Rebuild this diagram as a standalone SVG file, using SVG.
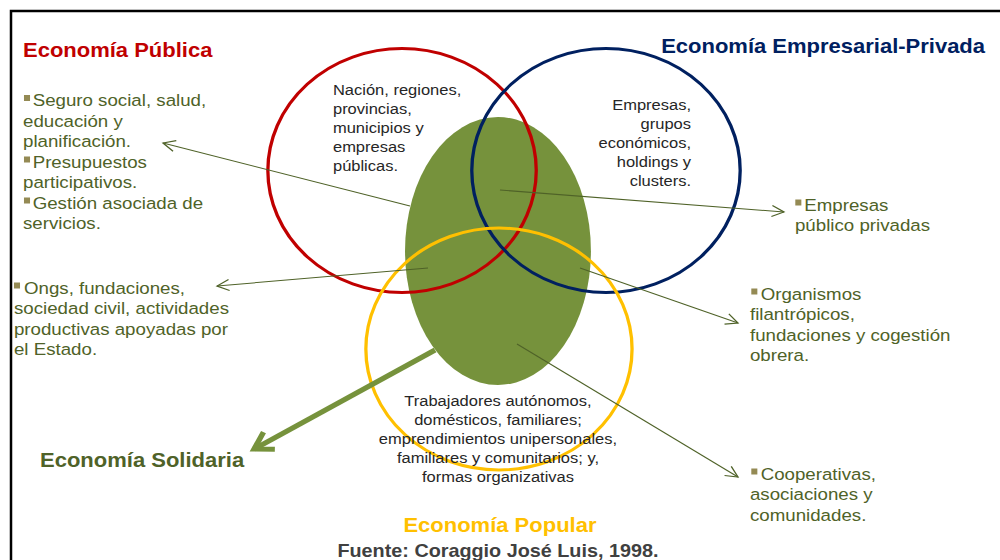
<svg xmlns="http://www.w3.org/2000/svg" width="1000" height="560" viewBox="0 0 1000 560">
<style>
.t{font-family:"Liberation Sans",Arial,sans-serif}
.b{font-weight:bold;font-size:20px}
.l{font-size:17px;fill:#4F6228}
.c{font-size:15px;fill:#262626}
.bu{fill:#948A54}
.thin{fill:none;stroke:#4F6228;stroke-width:1}
</style>
<defs>
<marker id="ah" markerUnits="userSpaceOnUse" markerWidth="14" markerHeight="14" viewBox="0 0 14 14" refX="12" refY="7" orient="auto">
<path d="M1,1.5 L12,7 L1,12.5" fill="none" stroke="#4F6228" stroke-width="1.2"/>
</marker>
<marker id="ahg" markerUnits="userSpaceOnUse" markerWidth="26" markerHeight="26" viewBox="0 0 26 26" refX="21" refY="13" orient="auto">
<path d="M5,3 L21,13 L5,23" fill="none" stroke="#76923C" stroke-width="5"/>
</marker>
</defs>
<rect x="0" y="0" width="1000" height="560" fill="#ffffff"/>
<path d="M11,600 L11,11 L1010,11" fill="none" stroke="#000" stroke-width="2.5"/>
<g transform="scale(1.1 1)">
<g id="node-solidaria-core">
<ellipse cx="452.7" cy="251" rx="84.5" ry="134" fill="#76923C"/>
</g>
<g id="node-publica-circle">
<circle cx="365.5" cy="170.5" r="122" fill="none" stroke="#C00000" stroke-width="3"/>
</g>
<g id="node-privada-circle">
<circle cx="550.9" cy="170.5" r="122" fill="none" stroke="#002060" stroke-width="3"/>
</g>
<g id="node-popular-circle">
<circle cx="453.6" cy="349" r="121" fill="none" stroke="#FFC000" stroke-width="3"/>
</g>
<g id="connectors">
<line class="thin" x1="372.7" y1="206" x2="148.2" y2="143" marker-end="url(#ah)"/>
<line class="thin" x1="454.5" y1="190" x2="712.7" y2="212" marker-end="url(#ah)"/>
<line class="thin" x1="389.1" y1="268" x2="197.3" y2="286" marker-end="url(#ah)"/>
<line class="thin" x1="527.3" y1="268" x2="670.9" y2="323" marker-end="url(#ah)"/>
<line class="thin" x1="470" y1="344" x2="670.9" y2="477" marker-end="url(#ah)"/>
<line x1="395.5" y1="350" x2="231" y2="449" stroke="#76923C" stroke-width="5" marker-end="url(#ahg)"/>
</g>
<g id="node-publica-title">
<text class="t b" x="20.9" y="57" fill="#C00000">Economía Pública</text>
</g>
<g id="node-privada-title">
<text class="t b" x="895.5" y="53" fill="#002060" text-anchor="end">Economía Empresarial-Privada</text>
</g>
<g id="node-publica-list">
<rect class="bu" x="21.8" y="95" width="5.5" height="6"/>
<rect class="bu" x="21.8" y="156.5" width="5.5" height="6"/>
<rect class="bu" x="21.8" y="197.5" width="5.5" height="6"/>
<text class="t l" x="29.7" y="106.5">Seguro social, salud,</text>
<text class="t l" x="20.9" y="127">educación y</text>
<text class="t l" x="20.9" y="147.5">planificación.</text>
<text class="t l" x="29.7" y="168">Presupuestos</text>
<text class="t l" x="20.9" y="188.5">participativos.</text>
<text class="t l" x="29.7" y="209">Gestión asociada de</text>
<text class="t l" x="20.9" y="229.5">servicios.</text>
</g>
<g id="node-ongs">
<rect class="bu" x="12.7" y="282.5" width="5.5" height="6"/>
<text class="t l" x="21.8" y="294">Ongs, fundaciones,</text>
<text class="t l" x="12.7" y="314.5">sociedad civil, actividades</text>
<text class="t l" x="12.7" y="335">productivas apoyadas por</text>
<text class="t l" x="12.7" y="355.5">el Estado.</text>
</g>
<g id="node-solidaria-title">
<text class="t b" x="36.4" y="467" fill="#4F6228">Economía Solidaria</text>
</g>
<g id="node-mixtas">
<rect class="bu" x="723" y="199.5" width="5.5" height="6"/>
<text class="t l" x="731.2" y="211">Empresas</text>
<text class="t l" x="722.7" y="231">público privadas</text>
</g>
<g id="node-organismos">
<rect class="bu" x="683" y="288.5" width="5.5" height="6"/>
<text class="t l" x="691.5" y="300">Organismos</text>
<text class="t l" x="681.8" y="320.5">filantrópicos,</text>
<text class="t l" x="681.8" y="341">fundaciones y cogestión</text>
<text class="t l" x="681.8" y="361.5">obrera.</text>
</g>
<g id="node-cooperativas">
<rect class="bu" x="683" y="468.5" width="5.5" height="6"/>
<text class="t l" x="691.5" y="480">Cooperativas,</text>
<text class="t l" x="681.8" y="500.5">asociaciones y</text>
<text class="t l" x="681.8" y="521">comunidades.</text>
</g>
<g id="node-publica-text">
<text class="t c" x="302.7" y="95.5">Nación, regiones,</text>
<text class="t c" x="302.7" y="114.5">provincias,</text>
<text class="t c" x="302.7" y="133.5">municipios y</text>
<text class="t c" x="302.7" y="152.5">empresas</text>
<text class="t c" x="302.7" y="171.5">públicas.</text>
</g>
<g id="node-privada-text">
<text class="t c" x="628.2" y="110" text-anchor="end">Empresas,</text>
<text class="t c" x="628.2" y="129" text-anchor="end">grupos</text>
<text class="t c" x="628.2" y="148" text-anchor="end">económicos,</text>
<text class="t c" x="628.2" y="167" text-anchor="end">holdings y</text>
<text class="t c" x="628.2" y="186" text-anchor="end">clusters.</text>
</g>
<g id="node-popular-text">
<text class="t c" x="452.7" y="406" text-anchor="middle">Trabajadores autónomos,</text>
<text class="t c" x="452.7" y="425" text-anchor="middle">domésticos, familiares;</text>
<text class="t c" x="452.7" y="444" text-anchor="middle">emprendimientos unipersonales,</text>
<text class="t c" x="452.7" y="463" text-anchor="middle">familiares y comunitarios; y,</text>
<text class="t c" x="452.7" y="482" text-anchor="middle">formas organizativas</text>
</g>
<g id="node-popular-title">
<text class="t b" x="454.5" y="532" fill="#FFC000" text-anchor="middle">Economía Popular</text>
</g>
<g id="node-fuente">
<text class="t" x="452.7" y="557" fill="#404040" font-size="18" font-weight="bold" text-anchor="middle">Fuente: Coraggio José Luis, 1998.</text>
</g>
</g>
</svg>
